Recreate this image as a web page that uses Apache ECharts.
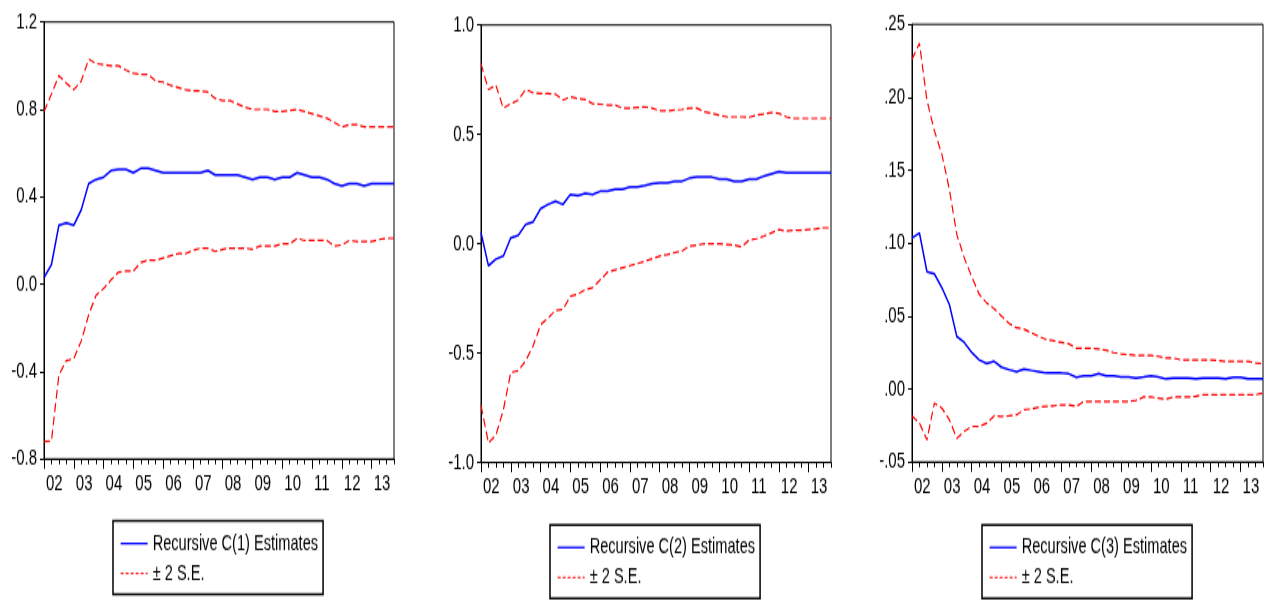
<!DOCTYPE html>
<html>
<head>
<meta charset="utf-8">
<script src="https://cdn.jsdelivr.net/npm/echarts@6/dist/echarts.min.js"></script>
<style>
  html, body { margin: 0; padding: 0; background: #fff; width: 1272px; height: 601px; overflow: hidden; }
  /* the chart is laid out on a shorter canvas and stretched vertically, giving tall narrow glyphs */
  #chart { width: 1272px; height: 401px; transform: scaleY(1.49875); transform-origin: 0 0; }
</style>
</head>
<body>
<div id="chart"></div>
<script>
// Quarterly sample 2002Q1 - 2013Q4
const years = ['2002','2003','2004','2005','2006','2007','2008','2009','2010','2011','2012','2013'];
const quarterNames = ['Q1','Q2','Q3','Q4'];
const quarters = [];
years.forEach(y => quarterNames.forEach(q => quarters.push(y + q)));

// Recursive C(1)
const c1Est = [0.03,0.09,0.27,0.28,0.27,0.34,0.46,0.48,0.49,0.52,
  0.525,0.525,0.51,0.53,0.53,0.52,0.51,0.51,0.51,0.51,
  0.51,0.51,0.52,0.50,0.50,0.50,0.50,0.49,0.48,0.49,
  0.49,0.48,0.49,0.49,0.51,0.50,0.49,0.49,0.48,0.46,
  0.45,0.46,0.46,0.45,0.46,0.46,0.46,0.46];
const c1Upper = [0.79,0.87,0.955,0.92,0.89,0.93,1.03,1.01,1.005,1.0,
  1.0,0.98,0.965,0.96,0.96,0.93,0.925,0.91,0.90,0.89,
  0.885,0.885,0.88,0.85,0.84,0.84,0.825,0.81,0.80,0.80,
  0.80,0.79,0.79,0.795,0.80,0.79,0.78,0.77,0.76,0.74,
  0.72,0.73,0.73,0.72,0.72,0.72,0.72,0.72];
const c1Lower = [-0.72,-0.717,-0.415,-0.35,-0.34,-0.26,-0.14,-0.05,-0.02,0.02,
  0.055,0.06,0.06,0.10,0.11,0.11,0.12,0.13,0.14,0.14,
  0.155,0.165,0.165,0.15,0.16,0.165,0.165,0.165,0.16,0.175,
  0.175,0.175,0.185,0.185,0.21,0.20,0.20,0.20,0.20,0.175,
  0.18,0.20,0.195,0.195,0.195,0.205,0.21,0.21];

// Recursive C(2)
const c2Est = [0.05,-0.10,-0.07,-0.056,0.027,0.038,0.088,0.10,0.16,0.18,
  0.195,0.18,0.225,0.22,0.23,0.225,0.24,0.24,0.25,0.25,
  0.26,0.26,0.266,0.275,0.278,0.278,0.286,0.286,0.30,0.305,
  0.305,0.305,0.296,0.296,0.286,0.286,0.296,0.296,0.31,0.32,
  0.33,0.324,0.324,0.324,0.324,0.324,0.324,0.324];
const c2Upper = [0.824,0.705,0.725,0.62,0.64,0.657,0.705,0.69,0.687,0.687,
  0.684,0.657,0.672,0.664,0.66,0.64,0.638,0.634,0.634,0.62,
  0.62,0.623,0.626,0.62,0.608,0.608,0.611,0.614,0.62,0.62,
  0.603,0.596,0.588,0.58,0.58,0.58,0.578,0.588,0.593,0.60,
  0.596,0.58,0.573,0.573,0.573,0.573,0.573,0.573];
const c2Lower = [-0.739,-0.91,-0.875,-0.76,-0.588,-0.58,-0.535,-0.467,-0.37,-0.34,
  -0.305,-0.30,-0.24,-0.23,-0.21,-0.20,-0.165,-0.13,-0.12,-0.11,
  -0.10,-0.09,-0.08,-0.068,-0.056,-0.049,-0.04,-0.033,-0.01,-0.006,
  0.0,0.0,0.0,-0.003,-0.006,-0.014,0.017,0.023,0.035,0.05,
  0.065,0.058,0.062,0.062,0.065,0.068,0.073,0.073];

// Recursive C(3)
const c3Est = [0.1034,0.107,0.0805,0.079,0.0695,0.058,0.036,0.032,0.025,0.020,
  0.0175,0.019,0.015,0.0133,0.012,0.0137,0.0128,0.012,0.011,0.011,
  0.011,0.0105,0.008,0.009,0.009,0.0105,0.009,0.009,0.0082,0.0082,
  0.0075,0.0082,0.009,0.0082,0.0069,0.0075,0.0075,0.0075,0.0069,0.0075,
  0.0075,0.0075,0.0069,0.008,0.008,0.0069,0.0069,0.0069];
const c3Upper = [0.226,0.237,0.198,0.177,0.161,0.137,0.106,0.090,0.077,0.065,
  0.059,0.055,0.050,0.045,0.042,0.041,0.0385,0.036,0.034,0.033,
  0.032,0.031,0.028,0.028,0.028,0.0275,0.0266,0.025,0.024,0.0236,
  0.023,0.023,0.023,0.0224,0.0213,0.0213,0.020,0.020,0.020,0.020,
  0.020,0.0195,0.019,0.019,0.019,0.019,0.018,0.0174];
const c3Lower = [-0.0183,-0.0234,-0.0348,-0.0096,-0.013,-0.021,-0.0337,-0.029,-0.0256,-0.0256,
  -0.0234,-0.0183,-0.0188,-0.0183,-0.0176,-0.0142,-0.0137,-0.0124,-0.0119,-0.0115,
  -0.0108,-0.0108,-0.0119,-0.0085,-0.0085,-0.0085,-0.0085,-0.0085,-0.0085,-0.0085,
  -0.0078,-0.0055,-0.0055,-0.0062,-0.0069,-0.0055,-0.0055,-0.0055,-0.005,-0.0039,
  -0.0039,-0.0039,-0.0039,-0.0039,-0.0039,-0.0039,-0.0039,-0.0027];

const estNames = ['Recursive C(1) Estimates', 'Recursive C(2) Estimates', 'Recursive C(3) Estimates'];
const bandName = '± 2 S.E.';

// y-axis scales and tick labels
const yMins = [-0.8, -1.0, -0.05];
const yMaxs = [1.2, 1.0, 0.25];
const yIntervals = [0.4, 0.5, 0.05];
const yFormatters = [
  v => v.toFixed(1),
  v => v.toFixed(1),
  v => v.toFixed(2).replace(/^(-?)0\./, '$1.')
];

const STRETCH = 601 / 401;
const v = y => y / STRETCH;          // page pixel -> canvas pixel (vertical)
const FONT = "'Liberation Sans', Arial, sans-serif";
const BLUE = '#0000ff';
const RED = '#ff0000';

const panels = [
  { est: c1Est, up: c1Upper, lo: c1Lower, grid: { left: 44, top: 22, right: 394, bottom: 459 }, legend: { left: 113, top: 521 } },
  { est: c2Est, up: c2Upper, lo: c2Lower, grid: { left: 481, top: 25, right: 831, bottom: 462.5 }, legend: { left: 550, top: 525 } },
  { est: c3Est, up: c3Upper, lo: c3Lower, grid: { left: 912, top: 24.3, right: 1263, bottom: 462 }, legend: { left: 982, top: 525 } }
];

const option = {
  animation: false,
  backgroundColor: '#fff',
  grid: [], xAxis: [], yAxis: [], series: [], legend: []
};

panels.forEach((p, g) => {
  option.grid.push({
    left: p.grid.left, top: v(p.grid.top),
    width: p.grid.right - p.grid.left,
    height: v(p.grid.bottom) - v(p.grid.top),
    show: true, borderColor: '#000', borderWidth: 1,
    backgroundColor: 'transparent',
    containLabel: false, outerBoundsMode: 'none'
  });
  // quarterly minor ticks
  option.xAxis.push({
    type: 'category', gridIndex: g, data: quarters, boundaryGap: false,
    position: 'bottom',
    axisLine: { show: true, onZero: false, lineStyle: { color: '#000', width: 1 } },
    axisTick: { show: true, interval: 0, length: 3.5, lineStyle: { color: '#000', width: 1 } },
    axisLabel: { show: false },
    splitLine: { show: false }
  });
  // yearly major ticks and labels
  option.xAxis.push({
    type: 'category', gridIndex: g, data: quarters, boundaryGap: false,
    position: 'bottom',
    axisLine: { show: false, onZero: false },
    axisTick: { show: true, interval: 3, length: 6.5, lineStyle: { color: '#000', width: 1 } },
    axisLabel: {
      show: true, interval: 3, color: '#000', fontSize: 15, fontFamily: FONT,
      align: 'left', padding: [0, 0, 0, 2], margin: 9,
      formatter: val => val.substring(2, 4)
    },
    splitLine: { show: false }
  });
  option.yAxis.push({
    type: 'value', gridIndex: g,
    min: yMins[g], max: yMaxs[g], interval: yIntervals[g],
    axisLine: { show: true, onZero: false, lineStyle: { color: '#000', width: 1 } },
    axisTick: { show: true, length: 4, lineStyle: { color: '#000', width: 1 } },
    axisLabel: { color: '#000', fontSize: 15, fontFamily: FONT, margin: 7, formatter: yFormatters[g] },
    splitLine: { show: false }
  });
  const xi = g * 2;
  const common = { type: 'line', xAxisIndex: xi, yAxisIndex: g, symbol: 'none', showSymbol: false, emphasis: { disabled: true }, silent: true };
  option.series.push(Object.assign({}, common, {
    name: estNames[g], data: p.est,
    lineStyle: { color: BLUE, width: 1.5, type: 'solid' }, itemStyle: { color: BLUE }
  }));
  option.series.push(Object.assign({}, common, {
    name: bandName, data: p.up,
    lineStyle: { color: RED, width: 1.2, type: [6, 3] }, itemStyle: { color: RED }
  }));
  option.series.push(Object.assign({}, common, {
    name: bandName, data: p.lo,
    lineStyle: { color: RED, width: 1.2, type: [6, 3] }, itemStyle: { color: RED }
  }));
  option.legend.push({
    data: [
      { name: estNames[g], lineStyle: { width: 1.3 } },
      { name: bandName, lineStyle: { width: 1, type: [3, 2] } }
    ],
    orient: 'vertical',
    left: p.legend.left, top: v(p.legend.top),
    padding: [7, 5, 6, 7],
    itemGap: 4, itemWidth: 27, itemHeight: 10,
    backgroundColor: '#fff', borderColor: '#000', borderWidth: 1.5, borderRadius: 0,
    itemStyle: { opacity: 0, borderWidth: 0 },
    textStyle: { color: '#000', fontSize: 14.6, lineHeight: 16, fontFamily: FONT },
    selectedMode: false
  });
});

const chart = echarts.init(document.getElementById('chart'), null, { renderer: 'canvas' });
chart.setOption(option);
</script>
</body>
</html>
